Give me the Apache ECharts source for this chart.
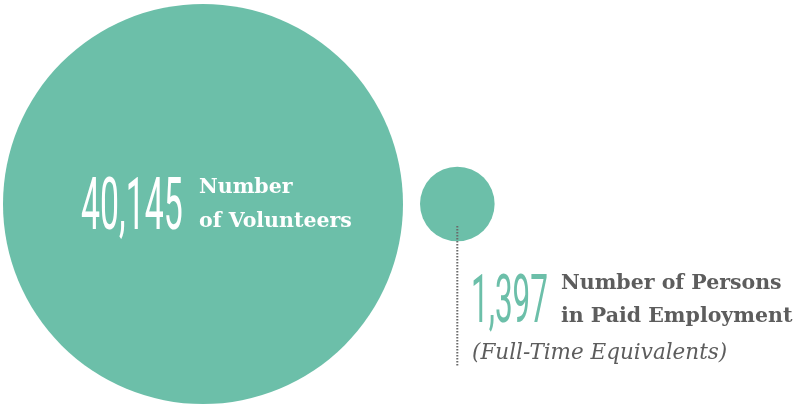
<!DOCTYPE html>
<html>
<head>
<meta charset="utf-8">
<script src="https://cdn.jsdelivr.net/npm/echarts@6/dist/echarts.min.js"></script>
<style>
  html, body { margin: 0; padding: 0; background: #ffffff; }
  #chart { width: 803px; height: 408px; }
</style>
</head>
<body>
<div id="chart"></div>
<script>
// Workforce figures shown as area-proportional bubbles
const categories = ['Number\nof Volunteers', 'Number of Persons\nin Paid Employment'];
const values = [40145, 1397];
const notes = ['', '(Full-Time Equivalents)'];

const TEAL = '#6cbfa9';
const GREY = '#5d5d5d';
const W = 803, H = 408;

// bubble diameters scale with the square root of the value (area-true)
const maxDiameter = 400;
const maxValue = Math.max(...values);
const diam = v => maxDiameter * Math.sqrt(v / maxValue);

// lay bubbles side by side, left-aligned, sharing a common centre line
const leftPad = 3, gap = 17, centreY = 204;
const points = [];
let cursor = leftPad;
values.forEach((v, i) => {
  const d = diam(v);
  points.push({ value: [cursor + d / 2, centreY, v], symbolSize: d, name: categories[i] });
  cursor += d + gap;
});

const fmt = v => v.toLocaleString('en-US');
const bigNumFont = '400 72px Roboto, "Open Sans", sans-serif';
const smallNumFont = '400 67px Roboto, "Open Sans", sans-serif';
const labelFont = 'bold 20.5px "DejaVu Serif", "Liberation Serif", serif';
const noteFont = 'italic 21.5px "DejaVu Serif", "Liberation Serif", serif';

const chart = echarts.init(document.getElementById('chart'), null, { renderer: 'canvas' });
chart.setOption({
  animation: false,
  backgroundColor: '#ffffff',
  grid: { left: 0, right: 0, top: 0, bottom: 0 },
  xAxis: { type: 'value', min: 0, max: W, show: false },
  yAxis: { type: 'value', min: 0, max: H, inverse: true, show: false },
  series: [{
    type: 'scatter',
    symbol: 'circle',
    z: 1,
    data: points,
    itemStyle: { color: TEAL, opacity: 1 },
    emphasis: { disabled: true },
    silent: true
  }]
});

// annotation text and leader line, anchored to the small bubble
const small = chart.convertToPixel({ seriesIndex: 0 }, points[1].value.slice(0, 2));

chart.setOption({
  graphic: [
    {
      type: 'text', x: 81, y: 211, scaleX: 0.47, z: 100, silent: true,
      style: { text: fmt(values[0]), font: bigNumFont, fill: '#ffffff', textAlign: 'left', textVerticalAlign: 'middle' }
    },
    {
      type: 'text', x: 199, y: 171, z: 100, silent: true,
      style: { text: categories[0], font: labelFont, fill: '#ffffff', lineHeight: 34, textVerticalAlign: 'top' }
    },
    {
      type: 'line', z: 100, silent: true,
      shape: { x1: small[0], y1: small[1] + 22, x2: small[0], y2: 366 },
      style: { stroke: '#6a6a6a', lineWidth: 2, lineDash: [1.5, 1.5] }
    },
    {
      type: 'text', x: 471, y: 305, scaleX: 0.47, z: 100, silent: true,
      style: { text: fmt(values[1]), font: smallNumFont, fill: TEAL, textAlign: 'left', textVerticalAlign: 'middle' }
    },
    {
      type: 'text', x: 561, y: 267, z: 100, silent: true,
      style: { text: categories[1], font: labelFont, fill: GREY, lineHeight: 33, textVerticalAlign: 'top' }
    },
    {
      type: 'text', x: 472, y: 342, z: 100, silent: true,
      style: { text: notes[1], font: noteFont, fill: GREY, textVerticalAlign: 'top' }
    }
  ]
});
</script>
</body>
</html>
